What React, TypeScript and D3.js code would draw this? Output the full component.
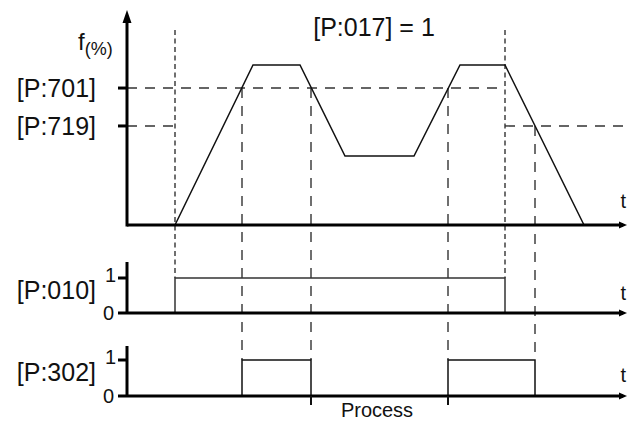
import React from "react";
import * as d3 from "d3";

// Time axis (arbitrary units) and frequency (%) of the process profile
const freqTimes = [9.6, 25.2, 34.6, 43.6, 57.4, 66.6, 75.6, 91.4];
const freqValues = [0, 100, 100, 43.1, 43.1, 100, 100, 0];

// Threshold parameters
const thresholdLabels = ["[P:701]", "[P:719]"];
const thresholdValues = [85.6, 61.9];

// Event times (crossings)
const tStart = 9.6;
const tStop = 75.6;
const p701Crossings = [23, 36.8, 64.2];
const p719Crossing = 81.6;

// Digital signals
const p010Times = [tStart, tStop];
const p302Pulses = [[23, 36.8], [64.2, 81.6]];
const processTicks = [36.8, 64.2];

const W = 627;
const H = 422;
const font = "'Liberation Sans', Arial, Helvetica, sans-serif";

export default function App() {
  const x = d3.scaleLinear().domain([0, 100]).range([127, 627]);
  const y = d3.scaleLinear().domain([0, 100]).range([225, 65]);
  const yTop = y.invert(10);
  const d010 = d3.scaleLinear().domain([0, 1]).range([313, 278]);
  const d302 = d3.scaleLinear().domain([0, 1]).range([396, 360]);

  const line = d3
    .line<number>()
    .x((_, i) => x(freqTimes[i]))
    .y((v) => y(v));

  const longDash = "10,8";
  const shortDash = "5,3.5";
  const dashColor = "#333";

  const p010Path =
    `M${x(p010Times[0])},${d010(0)}V${d010(1)}H${x(p010Times[1])}V${d010(0)}`;
  const p302Path = p302Pulses
    .map(([a, b]) => `M${x(a)},${d302(0)}V${d302(1)}H${x(b)}V${d302(0)}`)
    .join("");

  const arrow = (px: number, py: number, dir: "up" | "right") =>
    dir === "up"
      ? `M${px},${py}L${px - 4.5},${py + 13}L${px + 4.5},${py + 13}Z`
      : `M${px},${py}L${px - 8},${py - 3.5}L${px - 8},${py + 3.5}Z`;

  return (
    <svg
      width={W}
      height={H}
      style={{ position: "absolute", left: 0, top: 0, background: "#fff" }}
      fontFamily={font}
    >
      {/* dashed guides */}
      <g stroke={dashColor} strokeWidth={1.4} fill="none">
        <line x1={x(0)} x2={x(tStop)} y1={y(thresholdValues[0])} y2={y(thresholdValues[0])} strokeDasharray={longDash} />
        <line x1={x(0)} x2={x(tStart)} y1={y(thresholdValues[1])} y2={y(thresholdValues[1])} strokeDasharray={longDash} />
        <line x1={x(tStop)} x2={x(100)} y1={y(thresholdValues[1])} y2={y(thresholdValues[1])} strokeDasharray={longDash} />
        <line x1={x(tStart)} x2={x(tStart)} y1={30} y2={d010(1)} strokeDasharray={shortDash} />
        <line x1={x(tStop)} x2={x(tStop)} y1={30} y2={d010(1)} strokeDasharray={shortDash} />
        {p701Crossings.map((t, i) => (
          <line key={i} x1={x(t)} x2={x(t)} y1={y(thresholdValues[0])} y2={d302(1)} strokeDasharray={longDash} />
        ))}
        <line x1={x(p719Crossing)} x2={x(p719Crossing)} y1={y(thresholdValues[1])} y2={d302(1)} strokeDasharray={longDash} />
      </g>

      {/* frequency curve */}
      <path d={line(freqValues) || ""} fill="none" stroke="#111" strokeWidth={1.5} strokeLinejoin="miter" />

      {/* digital signals */}
      <path d={p010Path} fill="none" stroke="#333" strokeWidth={1.5} />
      <path d={p302Path} fill="none" stroke="#111" strokeWidth={1.5} />

      {/* main axes */}
      <g stroke="#000" strokeWidth={3}>
        <line x1={x(0)} x2={x(0)} y1={y(0) + 1.5} y2={y(yTop) + 8} />
        <line x1={x(0)} x2={x(100) - 4} y1={y(0)} y2={y(0)} />
        {thresholdValues.map((v, i) => (
          <line key={i} x1={x(0) - 9} x2={x(0)} y1={y(v)} y2={y(v)} />
        ))}
        {/* P:010 axes */}
        <line x1={x(0)} x2={x(0)} y1={d010(0)} y2={262} />
        <line x1={x(0) - 9} x2={x(100) - 4} y1={d010(0)} y2={d010(0)} />
        <line x1={x(0) - 9} x2={x(0)} y1={d010(1)} y2={d010(1)} />
        {/* P:302 axes */}
        <line x1={x(0)} x2={x(0)} y1={d302(0)} y2={346} />
        <line x1={x(0) - 9} x2={x(100) - 4} y1={d302(0)} y2={d302(0)} />
        <line x1={x(0) - 9} x2={x(0)} y1={d302(1)} y2={d302(1)} />
      </g>
      <g stroke="#111" strokeWidth={2}>
        {processTicks.map((t, i) => (
          <line key={i} x1={x(t)} x2={x(t)} y1={d302(0)} y2={d302(0) + 9} />
        ))}
      </g>
      <g fill="#000">
        <path d={arrow(x(0), y(yTop), "up")} />
        <path d={arrow(x(100), y(0), "right")} />
        <path d={arrow(x(100), d010(0), "right")} />
        <path d={arrow(x(100), d302(0), "right")} />
      </g>

      {/* texts */}
      <g fill="#111" fontSize={25}>
        {thresholdLabels.map((l, i) => (
          <text key={l} x={96} y={y(thresholdValues[i]) + 9} textAnchor="end">{l}</text>
        ))}
        <text x={96} y={299} textAnchor="end">[P:010]</text>
        <text x={96} y={381} textAnchor="end">[P:302]</text>
        <text x={374} y={36} textAnchor="middle">[P:017] = 1</text>
      </g>
      <g fill="#111" fontSize={20}>
        <text x={116} y={d010(1) + 4} textAnchor="end">1</text>
        <text x={114} y={d010(0) + 7} textAnchor="end">0</text>
        <text x={116} y={d302(1) + 4} textAnchor="end">1</text>
        <text x={114} y={d302(0) + 7} textAnchor="end">0</text>
      </g>
      <g fill="#111" fontSize={20}>
        <text x={626} y={208} textAnchor="end">t</text>
        <text x={626} y={300} textAnchor="end">t</text>
        <text x={626} y={382} textAnchor="end">t</text>
        <text x={x(50)} y={417} textAnchor="middle">Process</text>
      </g>
      <text x={78} y={50} fill="#111" fontSize={24}>
        f<tspan fontSize={18} dy={5}>(%)</tspan>
      </text>
    </svg>
  );
}
